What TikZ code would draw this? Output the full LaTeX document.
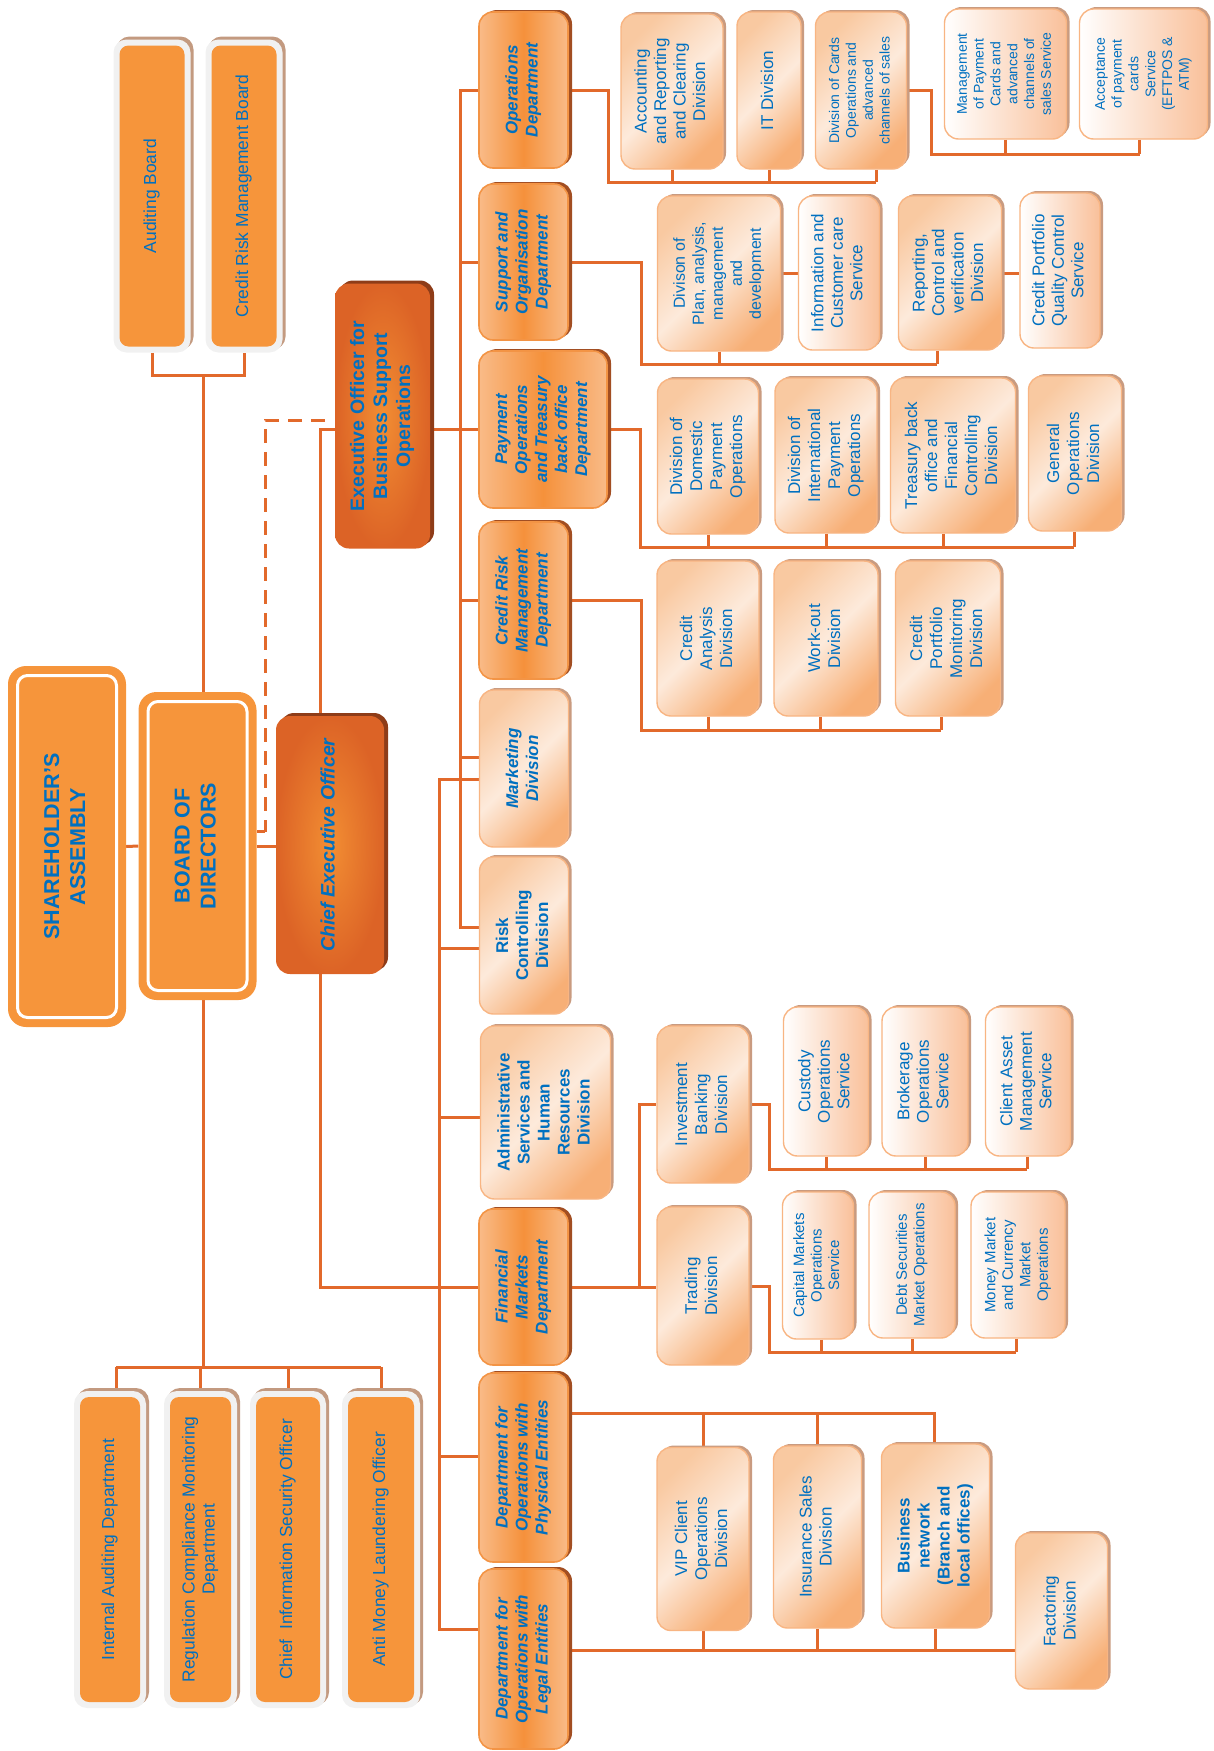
\documentclass[tikz,border=0pt]{standalone}
\usepackage{fontspec}
\setmainfont{Liberation Sans}
\usepackage{graphicx}
\usetikzlibrary{shadows,backgrounds,calc}
\definecolor{lineor}{HTML}{E2692B}
\definecolor{txtblue}{HTML}{0070C0}
\definecolor{boardor}{HTML}{F6953B}
\definecolor{boardgray}{HTML}{F1F1F1}
\definecolor{bshadow}{HTML}{C39A80}
\definecolor{darkin}{HTML}{F28E33}
\definecolor{darkout}{HTML}{DC6326}
\definecolor{darksh}{HTML}{8E3C18}
\definecolor{deptlight}{HTML}{F9BB88}
\definecolor{deptmid}{HTML}{F5913B}
\definecolor{deptdraw}{HTML}{F39445}
\definecolor{deptsh}{HTML}{A24E22}
\definecolor{divlight}{HTML}{FDEADB}
\definecolor{divdark}{HTML}{F7AF76}
\definecolor{divtop}{HTML}{F9C9A1}
\definecolor{divdraw}{HTML}{F8B583}
\definecolor{divsh}{HTML}{C99B80}
\definecolor{servdark}{HTML}{F9C09A}
\newcommand{\rtxt}[1]{\rotatebox{90}{\begin{tabular}{@{}c@{}}#1\end{tabular}}}
\begin{document}
\begin{tikzpicture}[x=1pt,y=-1pt,
  sz/.style 2 args={minimum width=#1pt, minimum height=#2pt},
  conn/.style={draw=lineor, line width=3pt},
  dashconn/.style={draw=lineor, line width=3pt, dash pattern=on 14pt off 9pt},
  bx/.style={inner sep=0pt, rounded corners=14pt, text=txtblue},
  board/.style={bx, rounded corners=13pt, fill=boardgray,
    drop shadow={shadow xshift=3pt, shadow yshift=3pt, fill=bshadow, opacity=1},
    path picture={\fill[boardor, rounded corners=9pt] ([shift={(6pt,6pt)}]path picture bounding box.south west) rectangle ([shift={(-6pt,-6pt)}]path picture bounding box.north east);},
    font=\fontsize{17.4}{20}\selectfont},
  sabox/.style={bx, rounded corners=18pt, fill=boardor,
    path picture={\draw[white, line width=3pt, rounded corners=10pt] ([shift={(9.5pt,9.5pt)}]path picture bounding box.south west) rectangle ([shift={(-9.5pt,-9.5pt)}]path picture bounding box.north east);},
    font=\bfseries\fontsize{21.5}{26}\selectfont},
  darkbox/.style={bx, inner color=darkin, outer color=darkout,
    drop shadow={shadow xshift=4pt, shadow yshift=3pt, fill=darksh, opacity=1},
    font=\bfseries\fontsize{19.5}{23}\selectfont},
  dept/.style={bx, left color=deptlight, right color=deptlight, middle color=deptmid,
    draw=deptdraw, line width=1.6pt,
    drop shadow={shadow xshift=4pt, shadow yshift=2pt, fill=deptsh, opacity=1},
    font=\bfseries\itshape\fontsize{17}{20}\selectfont},
  div/.style={bx, top color=divtop, bottom color=divdark, middle color=divlight, shading angle=45,
    draw=divdraw, line width=1.4pt,
    drop shadow={shadow xshift=3pt, shadow yshift=2pt, fill=divsh, opacity=1},
    font=\fontsize{17}{20}\selectfont},
  serv/.style={bx, left color=white, right color=servdark,
    draw=divdraw, line width=1.4pt,
    drop shadow={shadow xshift=3pt, shadow yshift=2pt, fill=divsh, opacity=1},
    font=\fontsize{17}{19.5}\selectfont}
]
\useasboundingbox (0,0) rectangle (1213,1751);

% boards
\node[board, sz={77}{313}] (aud) at (152,196) {\rtxt{Auditing Board}};
\node[board, sz={77}{313}] (crmb) at (244,196) {\rtxt{Credit Risk Management Board}};
\node[sabox, sz={118}{361}] (sa) at (67,846.5) {\rtxt{SHAREHOLDER’S\\ASSEMBLY}};
\node[sabox, sz={118}{308}] (bod) at (197.5,846) {\rtxt{BOARD OF\\DIRECTORS}};
\node[darkbox, sz={108}{258}, font=\bfseries\itshape\fontsize{19.5}{23}\selectfont] (ceo) at (330,845) {\rtxt{Chief Executive Officer}};
\node[darkbox, sz={95}{265}] (eo) at (382.5,416) {\rtxt{Executive Officer for\\Business Support\\Operations}};

% departments
\node[dept, sz={89}{156}] (ops) at (523.5,90) {\rtxt{Operations\\Department}};
\node[dept, sz={89}{156}] (sup) at (523.5,262) {\rtxt{Support and\\Organisation\\Department}};
\node[dept, sz={128}{157}] (pay) at (543,429.5) {\rtxt{Payment\\Operations\\and Treasury\\back office\\Department}};
\node[dept, sz={89}{157}] (crd) at (523.5,600.5) {\rtxt{Credit Risk\\Management\\Department}};
\node[div, sz={89}{157}, font=\bfseries\itshape\fontsize{17}{20}\selectfont] (mkt) at (524,768.5) {\rtxt{Marketing\\Division}};
\node[div, sz={89}{157}, font=\bfseries\fontsize{17}{20}\selectfont] (risk) at (524,935.5) {\rtxt{Risk\\Controlling\\Division}};
\node[div, sz={130}{173}, font=\bfseries\fontsize{17}{20}\selectfont] (adm) at (545.5,1112.5) {\rtxt{Administrative\\Services and\\Human\\Resources\\Division}};
\node[dept, sz={89}{156}] (fin) at (523.5,1287) {\rtxt{Financial\\Markets\\Department}};
\node[dept, sz={89}{189}] (phy) at (523.5,1467.5) {\rtxt{Department for\\Operations with\\Physical Entities}};
\node[dept, sz={89}{180}] (leg) at (523.5,1659) {\rtxt{Department for\\Operations with\\Legal Entities}};

% operations children
\node[div, sz={102}{155}, font=\fontsize{17}{19.5}\selectfont] (acc) at (672,91.5) {\rtxt{Accounting\\and Reporting\\and Clearing\\Division}};
\node[div, sz={64}{157}] (itd) at (769,90.5) {\rtxt{IT Division}};
\node[div, sz={91}{157}, font=\fontsize{14}{16.8}\selectfont] (cards) at (861,90.5) {\rtxt{Division of Cards\\Operations and\\advanced\\channels of sales}};
\node[serv, sz={122}{130}, font=\fontsize{14}{16.8}\selectfont] (mgmt) at (1005.5,74) {\rtxt{Management\\of Payment\\Cards and\\advanced\\channels of\\sales Service}};
\node[serv, sz={128}{130}, font=\fontsize{14}{16.8}\selectfont] (accept) at (1143.5,74) {\rtxt{Acceptance\\of payment\\cards\\Service\\(EFTPOS \&\\ATM)}};

% support children
\node[div, sz={123}{155}, font=\fontsize{16}{19}\selectfont] (plan) at (719,273.5) {\rtxt{Divison of\\Plan, analysis,\\management\\and\\development}};
\node[serv, sz={81}{154}] (info) at (839,273) {\rtxt{Information and\\Customer care\\Service}};
\node[div, sz={103}{154}, font=\fontsize{17}{19.5}\selectfont] (rep) at (950,273) {\rtxt{Reporting,\\Control and\\verification\\Division}};
\node[serv, sz={80}{155}] (cpqc) at (1060,270.5) {\rtxt{Credit Portfolio\\Quality Control\\Service}};

% payment children
\node[div, sz={101}{155}] (dom) at (708,456.5) {\rtxt{Division of\\Domestic\\Payment\\Operations}};
\node[div, sz={102}{155}] (intl) at (826,455.5) {\rtxt{Division of\\International\\Payment\\Operations}};
\node[div, sz={125}{155}] (treas) at (953,455.5) {\rtxt{Treasury back\\office and\\Financial\\Controlling\\Division}};
\node[div, sz={93}{155}] (gen) at (1075,453.5) {\rtxt{General\\Operations\\Division}};

% credit risk children
\node[div, sz={102}{155}] (ca) at (708,638.5) {\rtxt{Credit\\Analysis\\Division}};
\node[div, sz={104}{155}] (wo) at (826,638.5) {\rtxt{Work-out\\Division}};
\node[div, sz={105}{155}] (cpm) at (948,638.5) {\rtxt{Credit\\Portfolio\\Monitoring\\Division}};

% financial markets children
\node[div, sz={92}{157}] (inv) at (703,1104.5) {\rtxt{Investment\\Banking\\Division}};
\node[serv, sz={85}{149}] (cust) at (826,1081.5) {\rtxt{Custody\\Operations\\Service}};
\node[serv, sz={86}{149}] (brok) at (925,1081.5) {\rtxt{Brokerage\\Operations\\Service}};
\node[serv, sz={85}{149}] (cam) at (1028,1081.5) {\rtxt{Client Asset\\Management\\Service}};
\node[div, sz={92}{158}] (trad) at (703,1286) {\rtxt{Trading\\Division}};
\node[serv, sz={71}{147}, font=\fontsize{15}{17.5}\selectfont] (capm) at (818,1265.5) {\rtxt{Capital Markets\\Operations\\Service}};
\node[serv, sz={86}{146}, font=\fontsize{15}{17.5}\selectfont] (debt) at (912,1265) {\rtxt{Debt Securities\\Market Operations}};
\node[serv, sz={94}{146}, font=\fontsize{15}{17.5}\selectfont] (mm) at (1018,1265) {\rtxt{Money Market\\and Currency\\Market\\Operations}};

% physical / legal children
\node[div, sz={92}{183}] (vip) at (703,1539) {\rtxt{VIP Client\\Operations\\Division}};
\node[div, sz={88}{182}] (ins) at (817.5,1537) {\rtxt{Insurance Sales\\Division}};
\node[div, sz={108}{184}, font=\bfseries\fontsize{17}{20}\selectfont] (biz) at (935.5,1536) {\rtxt{Business\\network\\(Branch and\\local offices)}};
\node[div, sz={92}{156}] (fact) at (1061.5,1611) {\rtxt{Factoring\\Division}};

% bottom boards
\node[board, sz={72}{317}] (iad) at (110,1549.5) {\rtxt{Internal Auditing Department}};
\node[board, sz={73}{317}] (reg) at (200.5,1549.5) {\rtxt{Regulation Compliance Monitoring\\Department}};
\node[board, sz={76}{317}] (ciso) at (288,1549.5) {\rtxt{Chief\ \ Information Security Officer}};
\node[board, sz={78}{317}] (aml) at (381,1549.5) {\rtxt{Anti Money Laundering Officer}};

\begin{pgfonlayer}{background}
% trunks
\coordinate (tA) at (460.5,0);
\coordinate (tB) at (439,0);
\coordinate (mA) at ([yshift=11.5pt]mkt.west);
\coordinate (mB) at ([yshift=-10.5pt]mkt.west);
\coordinate (rA) at ([yshift=8.5pt]risk.west);
\coordinate (rB) at ([yshift=-12.5pt]risk.west);
\coordinate (aB) at ([yshift=-4.5pt]adm.west);
\coordinate (pB) at ([yshift=11pt]phy.west);
\coordinate (lB) at ([yshift=30pt]leg.west);
\draw[conn] (rA) -| (tA |- ops.west) -- (ops.west);
\draw[conn] (sup.west) -- (tA |- sup.west);
\draw[conn] (crd.west) -- (tA |- crd.west);
\draw[conn] (mA) -- (tA |- mA);
\draw[conn] (eo.east |- pay.west) -- (pay.west);
\draw[conn] (mB) -| (tB |- lB) -- (lB);
\draw[conn] (rB) -- (tB |- rB);
\draw[conn] (aB) -- (tB |- aB);
\draw[conn] (pB) -- (tB |- pB);
\draw[conn] ([xshift=-10pt]ceo.north) |- (eo.west |- pay.west);
\draw[conn] ([xshift=-10pt]ceo.south) |- (fin.west);
\draw[conn] (sa.east) -- (bod.west);
\draw[conn] (bod.east) -- (bod.east -| ceo.west);
% dashed
\coordinate (dA) at (325,420);
\coordinate (dB) at (265,420);
\coordinate (dC) at (265,831.5);
\draw[dashconn] (dA) -- (dB) -- (dC);
\draw[conn] (dC) -- (bod.east |- dC);
% boards
\coordinate (bj) at (203,375);
\coordinate (bb) at (203,1367);
\draw[conn] (aud.south) -- (aud.south |- bj) -- (crmb.south |- bj) -- (crmb.south);
\draw[conn] (bj) -- (bb);
\draw[conn] ([xshift=6pt]iad.north |- bb) -- (aml.north |- bb);
\draw[conn] ([xshift=6pt]iad.north) -- ([xshift=6pt]iad.north |- bb);
\draw[conn] (reg.north) -- (reg.north |- bb);
\draw[conn] (ciso.north) -- (ciso.north |- bb);
\draw[conn] (aml.north) -- (aml.north |- bb);
% operations
\coordinate (ob1) at (608,182);
\coordinate (ob2) at (876,182);
\draw[conn] (ops.east) -| (ob1) -- (ob2);
\draw[conn] (acc.south) -- (acc.south |- ob1);
\draw[conn] (itd.south) -- (itd.south |- ob1);
\draw[conn] (cards.south -| ob2) -- (ob2);
\coordinate (cb1) at (931.5,154);
\coordinate (cb2) at (1139.5,154);
\draw[conn] (cards.east) -| (cb1) -- (cb2);
\draw[conn] (mgmt.south) -- (mgmt.south |- cb1);
\draw[conn] (accept.south -| cb2) -- (cb2);
% support
\coordinate (sb1) at (641,364);
\coordinate (sb2) at (937,364);
\draw[conn] (sup.east) -| (sb1) -- (sb2);
\draw[conn] (plan.south) -- (plan.south |- sb1);
\draw[conn] (rep.south -| sb2) -- (sb2);
\draw[conn] (plan.east) -- (plan.east -| info.west);
\draw[conn] (rep.east) -- (rep.east -| cpqc.west);
% payment
\coordinate (pb1) at (640,547);
\coordinate (pb2) at (1074,547);
\draw[conn] (pay.east) -| (pb1) -- (pb2);
\draw[conn] (dom.south) -- (dom.south |- pb1);
\draw[conn] (intl.south) -- (intl.south |- pb1);
\draw[conn] ([xshift=-10pt]treas.south) -- ([xshift=-10pt]treas.south |- pb1);
\draw[conn] (gen.south -| pb2) -- (pb2);
% credit risk
\coordinate (kb1) at (641,730);
\coordinate (kb2) at (941,730);
\draw[conn] (crd.east) -| (kb1) -- (kb2);
\draw[conn] (ca.south) -- (ca.south |- kb1);
\draw[conn] ([xshift=-6pt]wo.south) -- ([xshift=-6pt]wo.south |- kb1);
\draw[conn] (cpm.south -| kb2) -- (kb2);
% financial markets
\coordinate (fj) at (639,0);
\draw[conn] (fin.east) -- (fin.east -| trad.west);
\draw[conn] (fj |- fin.east) |- (inv.west);
\coordinate (ib1) at (769,1169);
\coordinate (ib2) at (1027,1169);
\draw[conn] (inv.east) -| (ib1) -- (ib2);
\draw[conn] (cust.south) -- (cust.south |- ib1);
\draw[conn] (brok.south) -- (brok.south |- ib1);
\draw[conn] (cam.south -| ib2) -- (ib2);
\coordinate (tb1) at (769,1352);
\coordinate (tb2) at (1016,1352);
\draw[conn] (trad.east) -| (tb1) -- (tb2);
\draw[conn] ([xshift=3pt]capm.south) -- ([xshift=3pt]capm.south |- tb1);
\draw[conn] (debt.south) -- (debt.south |- tb1);
\draw[conn] (mm.south -| tb2) -- (tb2);
% physical
\coordinate (pE) at ([yshift=54.5pt]phy.east);
\coordinate (phb) at (934,1413);
\draw[conn] (pE) -- (phb) -- (phb |- biz.north);
\draw[conn] (vip.north |- pE) -- (vip.north);
\draw[conn] (ins.north |- pE) -- (ins.north);
% legal
\coordinate (lE) at ([yshift=8.5pt]leg.east);
\draw[conn] (lE) -- (lE -| fact.west);
\draw[conn] (vip.south) -- (vip.south |- lE);
\draw[conn] (ins.south) -- (ins.south |- lE);
\draw[conn] (biz.south) -- (biz.south |- lE);
\end{pgfonlayer}
\end{tikzpicture}
\end{document}
